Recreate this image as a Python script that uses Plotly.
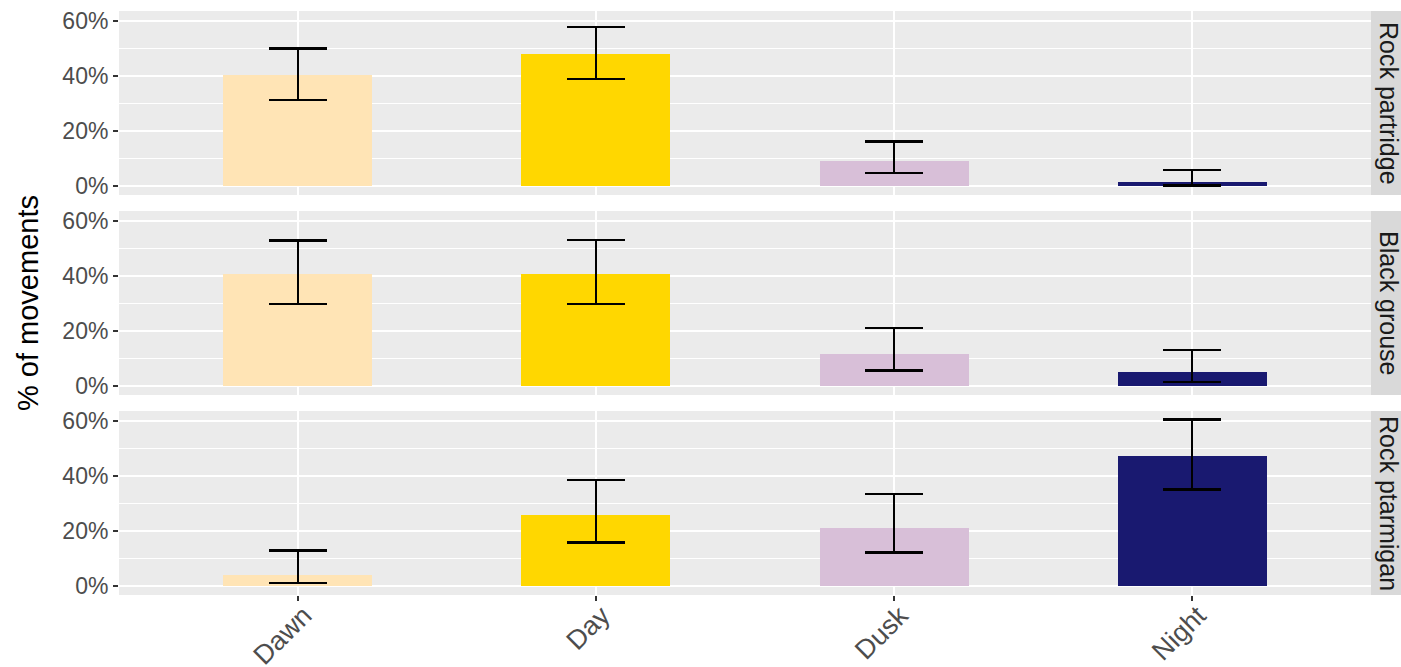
import plotly.graph_objects as go
from plotly.subplots import make_subplots

categories = ["Dawn", "Day", "Dusk", "Night"]
species = ["Rock partridge", "Black grouse", "Rock ptarmigan"]
colors = ["#FFE4B5", "#FFD700", "#D8BFD8", "#191970"]

# percent values
rock_partridge = [40.5, 48.1, 9.2, 1.5]
rock_partridge_lo = [31.4, 39.0, 4.8, 0.2]
rock_partridge_hi = [50.0, 57.8, 16.3, 5.9]

black_grouse = [40.7, 40.9, 11.8, 5.1]
black_grouse_lo = [29.8, 29.9, 5.7, 1.5]
black_grouse_hi = [53.0, 53.1, 21.2, 13.1]

rock_ptarmigan = [4.2, 26.0, 21.3, 47.5]
rock_ptarmigan_lo = [1.1, 15.9, 12.3, 35.2]
rock_ptarmigan_hi = [12.9, 38.7, 33.6, 60.6]

y_ticks = [0, 20, 40, 60]

series = [
    (rock_partridge, rock_partridge_lo, rock_partridge_hi),
    (black_grouse, black_grouse_lo, black_grouse_hi),
    (rock_ptarmigan, rock_ptarmigan_lo, rock_ptarmigan_hi),
]

W, H = 1401, 667
ml, mr, mt, mb = 119, 30, 11, 72
plot_h = H - mt - mb
gap = 16
ph = (plot_h - 2 * gap) / 3

fig = make_subplots(rows=3, cols=1, shared_xaxes=True,
                    vertical_spacing=gap / plot_h)

for i, (vals, lo, hi) in enumerate(series):
    fig.add_trace(go.Bar(
        x=categories, y=vals, width=0.5,
        marker=dict(color=colors, line=dict(width=0)),
        error_y=dict(type="data", symmetric=False,
                     array=[h - v for h, v in zip(hi, vals)],
                     arrayminus=[v - l for v, l in zip(vals, lo)],
                     color="black", thickness=2.5, width=29),
        showlegend=False,
    ), row=i + 1, col=1)

font_family = "Liberation Sans, Arial, sans-serif"
tick_font = dict(family=font_family, size=23, color="#4D4D4D")
xtick_font = dict(family=font_family, size=27, color="#4D4D4D")

for i in range(3):
    fig.update_yaxes(
        row=i + 1, col=1,
        range=[-3.2, 63.7], tickvals=y_ticks, ticktext=[f"{t}%" for t in y_ticks],
        showgrid=True, gridcolor="white", gridwidth=2,
        minor=dict(tickvals=[10, 30, 50], showgrid=True, gridcolor="white", gridwidth=1, ticks=""),
        zeroline=False, showline=False,
        ticks="outside", ticklen=5, tickwidth=2, tickcolor="#333333",
        tickfont=tick_font, fixedrange=True, automargin=False,
    )
    fig.update_xaxes(
        row=i + 1, col=1,
        type="category", range=[-0.6, 3.6],
        showgrid=True, gridcolor="white", gridwidth=2,
        zeroline=False, showline=False,
        ticks="outside" if i == 2 else "", ticklen=5, tickwidth=2, tickcolor="#333333",
        tickangle=-45, tickfont=xtick_font, fixedrange=True,
        showticklabels=(i == 2), automargin=False,
        ticklabelstandoff=-12, ticklabelshift=6,
    )

shapes = []
annotations = []
for i, name in enumerate(species):
    y1 = 1 - i * (ph + gap) / plot_h
    y0 = y1 - ph / plot_h
    shapes.append(dict(type="rect", xref="paper", yref="paper",
                       x0=1.0, x1=1.0 + 40 / (W - ml - mr), y0=y0, y1=y1,
                       fillcolor="#D9D9D9", line=dict(width=0), layer="below"))
    annotations.append(dict(xref="paper", yref="paper",
                            x=(1389 - ml) / (W - ml - mr), y=(y0 + y1) / 2,
                            text=name, textangle=90, showarrow=False,
                            xanchor="center", yanchor="middle",
                            font=dict(family=font_family, size=25, color="#1A1A1A")))

annotations.append(dict(xref="paper", yref="paper",
                        x=(28 - ml) / (W - ml - mr), y=0.5,
                        text="% of movements", textangle=-90, showarrow=False,
                        xanchor="center", yanchor="middle",
                        font=dict(family=font_family, size=29, color="black")))

fig.update_layout(
    width=W, height=H,
    margin=dict(l=ml, r=mr, t=mt, b=mb, pad=0),
    paper_bgcolor="white", plot_bgcolor="#EBEBEB",
    bargap=0, shapes=shapes, annotations=annotations,
    font=dict(family=font_family),
)

fig.write_html("out.html", config={"displayModeBar": False},
               post_script="document.body.style.margin='0';document.body.style.padding='0';document.body.style.overflow='hidden';")
